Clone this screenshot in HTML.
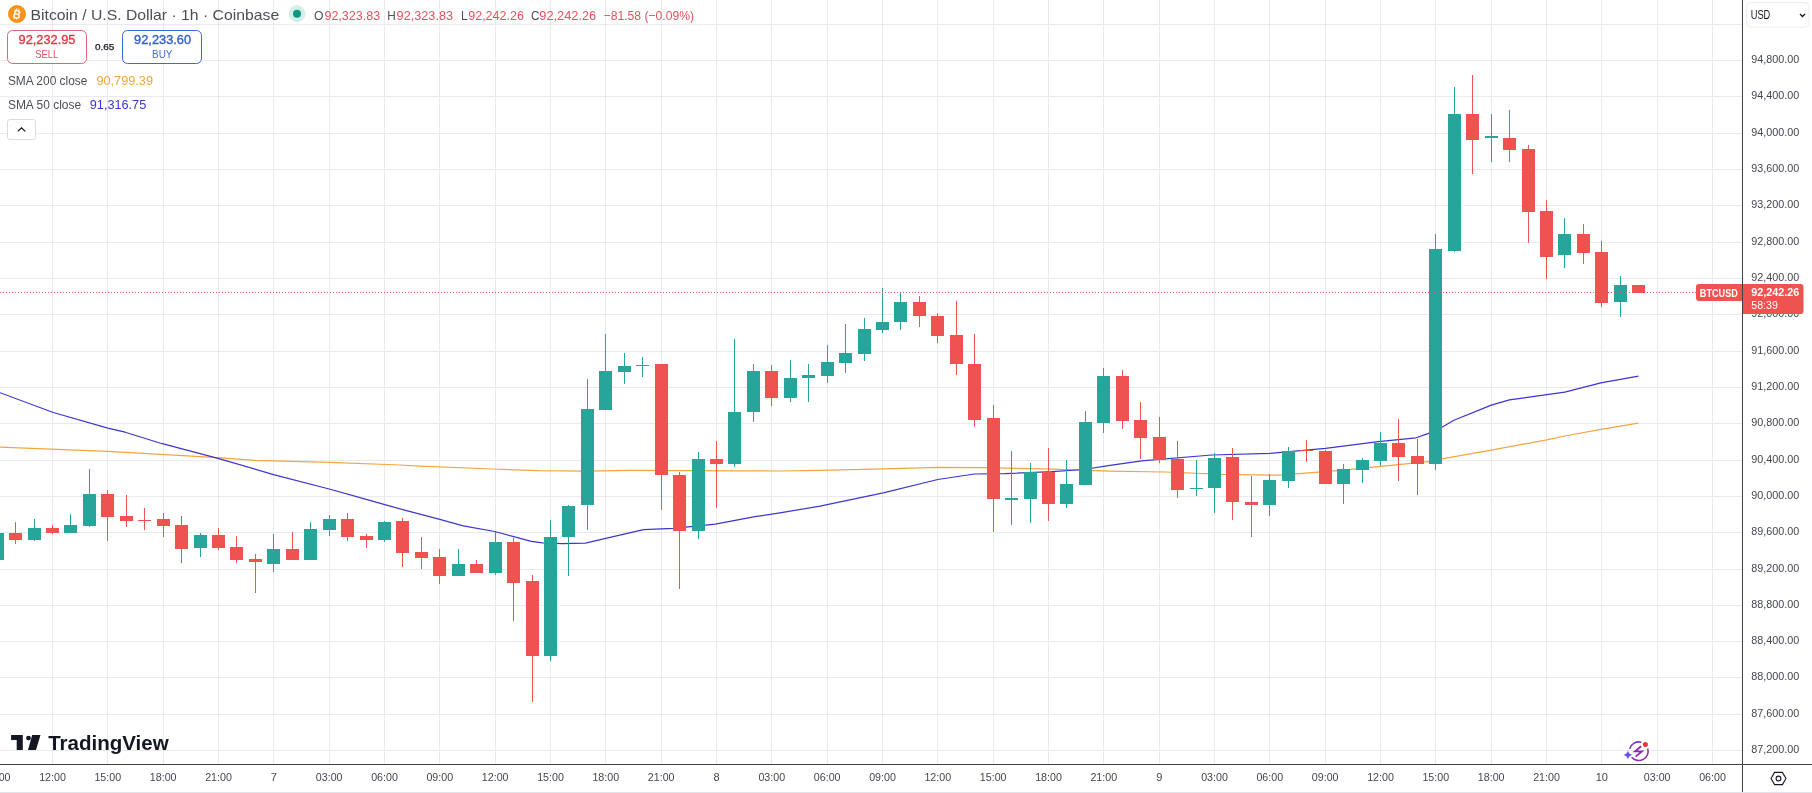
<!DOCTYPE html><html><head><meta charset="utf-8"><title>BTCUSD</title><style>html,body{margin:0;padding:0;width:1812px;height:793px;overflow:hidden;background:#fff;}svg{position:absolute;left:0;top:0;font-family:"Liberation Sans",sans-serif;will-change:transform;}</style></head><body>
<svg width="1812" height="793" viewBox="0 0 1812 793">
<g stroke="#e8eaee" stroke-width="1" shape-rendering="crispEdges">
<line x1="0" y1="24.5" x2="1742" y2="24.5"/>
<line x1="0" y1="60.5" x2="1742" y2="60.5"/>
<line x1="0" y1="96.5" x2="1742" y2="96.5"/>
<line x1="0" y1="133.5" x2="1742" y2="133.5"/>
<line x1="0" y1="169.5" x2="1742" y2="169.5"/>
<line x1="0" y1="205.5" x2="1742" y2="205.5"/>
<line x1="0" y1="242.5" x2="1742" y2="242.5"/>
<line x1="0" y1="278.5" x2="1742" y2="278.5"/>
<line x1="0" y1="314.5" x2="1742" y2="314.5"/>
<line x1="0" y1="351.5" x2="1742" y2="351.5"/>
<line x1="0" y1="387.5" x2="1742" y2="387.5"/>
<line x1="0" y1="423.5" x2="1742" y2="423.5"/>
<line x1="0" y1="460.5" x2="1742" y2="460.5"/>
<line x1="0" y1="496.5" x2="1742" y2="496.5"/>
<line x1="0" y1="532.5" x2="1742" y2="532.5"/>
<line x1="0" y1="569.5" x2="1742" y2="569.5"/>
<line x1="0" y1="605.5" x2="1742" y2="605.5"/>
<line x1="0" y1="641.5" x2="1742" y2="641.5"/>
<line x1="0" y1="677.5" x2="1742" y2="677.5"/>
<line x1="0" y1="714.5" x2="1742" y2="714.5"/>
<line x1="0" y1="750.5" x2="1742" y2="750.5"/>
<line x1="52.5" y1="0" x2="52.5" y2="764"/>
<line x1="107.5" y1="0" x2="107.5" y2="764"/>
<line x1="163.5" y1="0" x2="163.5" y2="764"/>
<line x1="218.5" y1="0" x2="218.5" y2="764"/>
<line x1="273.5" y1="0" x2="273.5" y2="764"/>
<line x1="329.5" y1="0" x2="329.5" y2="764"/>
<line x1="384.5" y1="0" x2="384.5" y2="764"/>
<line x1="439.5" y1="0" x2="439.5" y2="764"/>
<line x1="495.5" y1="0" x2="495.5" y2="764"/>
<line x1="550.5" y1="0" x2="550.5" y2="764"/>
<line x1="605.5" y1="0" x2="605.5" y2="764"/>
<line x1="661.5" y1="0" x2="661.5" y2="764"/>
<line x1="716.5" y1="0" x2="716.5" y2="764"/>
<line x1="771.5" y1="0" x2="771.5" y2="764"/>
<line x1="827.5" y1="0" x2="827.5" y2="764"/>
<line x1="882.5" y1="0" x2="882.5" y2="764"/>
<line x1="937.5" y1="0" x2="937.5" y2="764"/>
<line x1="993.5" y1="0" x2="993.5" y2="764"/>
<line x1="1048.5" y1="0" x2="1048.5" y2="764"/>
<line x1="1103.5" y1="0" x2="1103.5" y2="764"/>
<line x1="1159.5" y1="0" x2="1159.5" y2="764"/>
<line x1="1214.5" y1="0" x2="1214.5" y2="764"/>
<line x1="1269.5" y1="0" x2="1269.5" y2="764"/>
<line x1="1325.5" y1="0" x2="1325.5" y2="764"/>
<line x1="1380.5" y1="0" x2="1380.5" y2="764"/>
<line x1="1435.5" y1="0" x2="1435.5" y2="764"/>
<line x1="1491.5" y1="0" x2="1491.5" y2="764"/>
<line x1="1546.5" y1="0" x2="1546.5" y2="764"/>
<line x1="1601.5" y1="0" x2="1601.5" y2="764"/>
<line x1="1657.5" y1="0" x2="1657.5" y2="764"/>
<line x1="1712.5" y1="0" x2="1712.5" y2="764"/>
</g>
<polyline points="0.0,447.2 107.8,451.4 217.9,457.7 255.0,460.4 329.2,462.3 400.0,465.0 420.0,466.2 492.7,469.0 539.0,470.6 585.4,471.1 631.8,470.4 678.2,470.6 747.7,470.8 780.0,471.0 820.0,470.4 883.2,468.9 937.8,467.3 986.4,467.7 1052.0,469.2 1110.0,471.1 1165.0,472.0 1223.0,474.4 1280.0,475.2 1340.5,470.3 1385.9,465.8 1431.0,461.3 1442.0,458.8 1460.0,455.7 1491.3,450.2 1546.8,439.8 1564.8,436.0 1600.9,429.4 1638.4,423.1" fill="none" stroke="#f3a640" stroke-width="1.2" stroke-linejoin="round"/>
<polyline points="0.0,392.7 53.3,412.5 107.8,428.2 125.2,432.2 162.3,443.7 217.9,458.3 273.5,474.6 329.2,489.0 366.3,499.4 375.0,501.9 406.5,510.7 438.0,518.9 463.3,525.9 494.8,531.5 513.7,536.6 531.4,541.4 542.7,542.9 562.3,543.6 585.4,543.2 643.4,529.7 673.5,528.3 715.3,524.1 755.0,516.7 780.0,512.9 820.0,506.1 883.2,492.8 937.8,479.5 974.3,474.0 1004.6,473.6 1052.0,471.7 1083.5,469.5 1110.0,465.4 1141.7,460.8 1211.7,455.0 1270.0,453.3 1325.4,448.4 1378.3,441.6 1416.0,437.8 1428.0,433.6 1441.9,427.2 1453.9,420.3 1491.3,405.1 1509.4,399.8 1546.8,394.7 1564.8,392.2 1600.9,382.9 1638.4,376.2" fill="none" stroke="#3b36cf" stroke-width="1.2" stroke-linejoin="round"/>
<g shape-rendering="crispEdges">
<rect x="-3" y="533" width="1" height="27" fill="#26a69a"/>
<rect x="-9" y="533" width="13" height="27" fill="#26a69a"/>
<rect x="15" y="522" width="1" height="22" fill="#ef5350"/>
<rect x="9" y="533" width="13" height="7" fill="#ef5350"/>
<rect x="34" y="519" width="1" height="22" fill="#26a69a"/>
<rect x="28" y="528" width="13" height="12" fill="#26a69a"/>
<rect x="52" y="525" width="1" height="9" fill="#ef5350"/>
<rect x="46" y="528" width="13" height="5" fill="#ef5350"/>
<rect x="70" y="514" width="1" height="19" fill="#26a69a"/>
<rect x="64" y="525" width="13" height="8" fill="#26a69a"/>
<rect x="89" y="469" width="1" height="58" fill="#26a69a"/>
<rect x="83" y="494" width="13" height="32" fill="#26a69a"/>
<rect x="107" y="490" width="1" height="51" fill="#ef5350"/>
<rect x="101" y="494" width="13" height="23" fill="#ef5350"/>
<rect x="126" y="495" width="1" height="32" fill="#ef5350"/>
<rect x="120" y="516" width="13" height="5" fill="#ef5350"/>
<rect x="144" y="508" width="1" height="22" fill="#ef5350"/>
<rect x="138" y="520" width="13" height="1" fill="#ef5350"/>
<rect x="163" y="513" width="1" height="24" fill="#ef5350"/>
<rect x="157" y="519" width="13" height="7" fill="#ef5350"/>
<rect x="181" y="516" width="1" height="47" fill="#ef5350"/>
<rect x="175" y="525" width="13" height="24" fill="#ef5350"/>
<rect x="200" y="533" width="1" height="24" fill="#26a69a"/>
<rect x="194" y="535" width="13" height="13" fill="#26a69a"/>
<rect x="218" y="528" width="1" height="22" fill="#ef5350"/>
<rect x="212" y="535" width="13" height="13" fill="#ef5350"/>
<rect x="236" y="536" width="1" height="27" fill="#ef5350"/>
<rect x="230" y="547" width="13" height="13" fill="#ef5350"/>
<rect x="255" y="554" width="1" height="39" fill="#ef5350"/>
<rect x="249" y="559" width="13" height="3" fill="#ef5350"/>
<rect x="273" y="534" width="1" height="38" fill="#26a69a"/>
<rect x="267" y="549" width="13" height="15" fill="#26a69a"/>
<rect x="292" y="532" width="1" height="28" fill="#ef5350"/>
<rect x="286" y="549" width="13" height="11" fill="#ef5350"/>
<rect x="310" y="522" width="1" height="38" fill="#26a69a"/>
<rect x="304" y="529" width="13" height="31" fill="#26a69a"/>
<rect x="329" y="515" width="1" height="21" fill="#26a69a"/>
<rect x="323" y="519" width="13" height="11" fill="#26a69a"/>
<rect x="347" y="513" width="1" height="28" fill="#ef5350"/>
<rect x="341" y="519" width="13" height="18" fill="#ef5350"/>
<rect x="366" y="534" width="1" height="14" fill="#ef5350"/>
<rect x="360" y="536" width="13" height="4" fill="#ef5350"/>
<rect x="384" y="521" width="1" height="21" fill="#26a69a"/>
<rect x="378" y="522" width="13" height="18" fill="#26a69a"/>
<rect x="402" y="518" width="1" height="49" fill="#ef5350"/>
<rect x="396" y="521" width="13" height="32" fill="#ef5350"/>
<rect x="421" y="537" width="1" height="32" fill="#ef5350"/>
<rect x="415" y="552" width="13" height="6" fill="#ef5350"/>
<rect x="439" y="549" width="1" height="35" fill="#ef5350"/>
<rect x="433" y="557" width="13" height="19" fill="#ef5350"/>
<rect x="458" y="549" width="1" height="27" fill="#26a69a"/>
<rect x="452" y="564" width="13" height="12" fill="#26a69a"/>
<rect x="476" y="560" width="1" height="13" fill="#ef5350"/>
<rect x="470" y="564" width="13" height="9" fill="#ef5350"/>
<rect x="495" y="532" width="1" height="43" fill="#26a69a"/>
<rect x="489" y="542" width="13" height="31" fill="#26a69a"/>
<rect x="513" y="538" width="1" height="83" fill="#ef5350"/>
<rect x="507" y="542" width="13" height="41" fill="#ef5350"/>
<rect x="532" y="575" width="1" height="127" fill="#ef5350"/>
<rect x="526" y="581" width="13" height="75" fill="#ef5350"/>
<rect x="550" y="520" width="1" height="141" fill="#26a69a"/>
<rect x="544" y="537" width="13" height="119" fill="#26a69a"/>
<rect x="568" y="505" width="1" height="71" fill="#26a69a"/>
<rect x="562" y="506" width="13" height="31" fill="#26a69a"/>
<rect x="587" y="379" width="1" height="151" fill="#26a69a"/>
<rect x="581" y="409" width="13" height="96" fill="#26a69a"/>
<rect x="605" y="334" width="1" height="76" fill="#26a69a"/>
<rect x="599" y="371" width="13" height="39" fill="#26a69a"/>
<rect x="624" y="353" width="1" height="31" fill="#26a69a"/>
<rect x="618" y="366" width="13" height="6" fill="#26a69a"/>
<rect x="642" y="357" width="1" height="20" fill="#26a69a"/>
<rect x="636" y="365" width="13" height="1" fill="#26a69a"/>
<rect x="661" y="364" width="1" height="146" fill="#ef5350"/>
<rect x="655" y="364" width="13" height="111" fill="#ef5350"/>
<rect x="679" y="472" width="1" height="117" fill="#ef5350"/>
<rect x="673" y="475" width="13" height="56" fill="#ef5350"/>
<rect x="698" y="452" width="1" height="87" fill="#26a69a"/>
<rect x="692" y="459" width="13" height="72" fill="#26a69a"/>
<rect x="716" y="441" width="1" height="67" fill="#ef5350"/>
<rect x="710" y="459" width="13" height="5" fill="#ef5350"/>
<rect x="734" y="339" width="1" height="128" fill="#26a69a"/>
<rect x="728" y="412" width="13" height="52" fill="#26a69a"/>
<rect x="753" y="364" width="1" height="58" fill="#26a69a"/>
<rect x="747" y="371" width="13" height="41" fill="#26a69a"/>
<rect x="771" y="365" width="1" height="41" fill="#ef5350"/>
<rect x="765" y="371" width="13" height="27" fill="#ef5350"/>
<rect x="790" y="360" width="1" height="42" fill="#26a69a"/>
<rect x="784" y="378" width="13" height="20" fill="#26a69a"/>
<rect x="808" y="364" width="1" height="38" fill="#26a69a"/>
<rect x="802" y="375" width="13" height="3" fill="#26a69a"/>
<rect x="827" y="345" width="1" height="38" fill="#26a69a"/>
<rect x="821" y="362" width="13" height="14" fill="#26a69a"/>
<rect x="845" y="324" width="1" height="49" fill="#26a69a"/>
<rect x="839" y="353" width="13" height="10" fill="#26a69a"/>
<rect x="864" y="318" width="1" height="43" fill="#26a69a"/>
<rect x="858" y="329" width="13" height="25" fill="#26a69a"/>
<rect x="882" y="288" width="1" height="45" fill="#26a69a"/>
<rect x="876" y="322" width="13" height="8" fill="#26a69a"/>
<rect x="900" y="293" width="1" height="37" fill="#26a69a"/>
<rect x="894" y="302" width="13" height="20" fill="#26a69a"/>
<rect x="919" y="296" width="1" height="31" fill="#ef5350"/>
<rect x="913" y="302" width="13" height="14" fill="#ef5350"/>
<rect x="937" y="313" width="1" height="30" fill="#ef5350"/>
<rect x="931" y="316" width="13" height="20" fill="#ef5350"/>
<rect x="956" y="301" width="1" height="74" fill="#ef5350"/>
<rect x="950" y="335" width="13" height="29" fill="#ef5350"/>
<rect x="974" y="334" width="1" height="93" fill="#ef5350"/>
<rect x="968" y="364" width="13" height="56" fill="#ef5350"/>
<rect x="993" y="405" width="1" height="127" fill="#ef5350"/>
<rect x="987" y="418" width="13" height="81" fill="#ef5350"/>
<rect x="1011" y="451" width="1" height="74" fill="#26a69a"/>
<rect x="1005" y="498" width="13" height="2" fill="#26a69a"/>
<rect x="1030" y="463" width="1" height="60" fill="#26a69a"/>
<rect x="1024" y="472" width="13" height="27" fill="#26a69a"/>
<rect x="1048" y="448" width="1" height="73" fill="#ef5350"/>
<rect x="1042" y="472" width="13" height="32" fill="#ef5350"/>
<rect x="1066" y="460" width="1" height="48" fill="#26a69a"/>
<rect x="1060" y="484" width="13" height="20" fill="#26a69a"/>
<rect x="1085" y="411" width="1" height="74" fill="#26a69a"/>
<rect x="1079" y="422" width="13" height="63" fill="#26a69a"/>
<rect x="1103" y="368" width="1" height="65" fill="#26a69a"/>
<rect x="1097" y="376" width="13" height="47" fill="#26a69a"/>
<rect x="1122" y="370" width="1" height="59" fill="#ef5350"/>
<rect x="1116" y="376" width="13" height="45" fill="#ef5350"/>
<rect x="1140" y="402" width="1" height="57" fill="#ef5350"/>
<rect x="1134" y="420" width="13" height="18" fill="#ef5350"/>
<rect x="1159" y="417" width="1" height="46" fill="#ef5350"/>
<rect x="1153" y="437" width="13" height="23" fill="#ef5350"/>
<rect x="1177" y="441" width="1" height="57" fill="#ef5350"/>
<rect x="1171" y="459" width="13" height="31" fill="#ef5350"/>
<rect x="1196" y="460" width="1" height="36" fill="#26a69a"/>
<rect x="1190" y="488" width="13" height="1" fill="#26a69a"/>
<rect x="1214" y="453" width="1" height="60" fill="#26a69a"/>
<rect x="1208" y="458" width="13" height="30" fill="#26a69a"/>
<rect x="1232" y="448" width="1" height="72" fill="#ef5350"/>
<rect x="1226" y="457" width="13" height="45" fill="#ef5350"/>
<rect x="1251" y="476" width="1" height="61" fill="#ef5350"/>
<rect x="1245" y="502" width="13" height="3" fill="#ef5350"/>
<rect x="1269" y="474" width="1" height="42" fill="#26a69a"/>
<rect x="1263" y="480" width="13" height="25" fill="#26a69a"/>
<rect x="1288" y="447" width="1" height="41" fill="#26a69a"/>
<rect x="1282" y="451" width="13" height="30" fill="#26a69a"/>
<rect x="1306" y="440" width="1" height="22" fill="#ef5350"/>
<rect x="1300" y="450" width="13" height="1" fill="#ef5350"/>
<rect x="1325" y="450" width="1" height="34" fill="#ef5350"/>
<rect x="1319" y="451" width="13" height="33" fill="#ef5350"/>
<rect x="1343" y="464" width="1" height="40" fill="#26a69a"/>
<rect x="1337" y="469" width="13" height="15" fill="#26a69a"/>
<rect x="1362" y="458" width="1" height="25" fill="#26a69a"/>
<rect x="1356" y="460" width="13" height="10" fill="#26a69a"/>
<rect x="1380" y="432" width="1" height="34" fill="#26a69a"/>
<rect x="1374" y="443" width="13" height="18" fill="#26a69a"/>
<rect x="1398" y="419" width="1" height="62" fill="#ef5350"/>
<rect x="1392" y="443" width="13" height="14" fill="#ef5350"/>
<rect x="1417" y="439" width="1" height="56" fill="#ef5350"/>
<rect x="1411" y="456" width="13" height="8" fill="#ef5350"/>
<rect x="1435" y="234" width="1" height="236" fill="#26a69a"/>
<rect x="1429" y="249" width="13" height="215" fill="#26a69a"/>
<rect x="1454" y="87" width="1" height="165" fill="#26a69a"/>
<rect x="1448" y="114" width="13" height="137" fill="#26a69a"/>
<rect x="1472" y="75" width="1" height="99" fill="#ef5350"/>
<rect x="1466" y="114" width="13" height="26" fill="#ef5350"/>
<rect x="1491" y="114" width="1" height="48" fill="#26a69a"/>
<rect x="1485" y="136" width="13" height="2" fill="#26a69a"/>
<rect x="1509" y="110" width="1" height="52" fill="#ef5350"/>
<rect x="1503" y="138" width="13" height="12" fill="#ef5350"/>
<rect x="1528" y="145" width="1" height="98" fill="#ef5350"/>
<rect x="1522" y="149" width="13" height="63" fill="#ef5350"/>
<rect x="1546" y="200" width="1" height="79" fill="#ef5350"/>
<rect x="1540" y="211" width="13" height="46" fill="#ef5350"/>
<rect x="1564" y="218" width="1" height="50" fill="#26a69a"/>
<rect x="1558" y="234" width="13" height="21" fill="#26a69a"/>
<rect x="1583" y="224" width="1" height="40" fill="#ef5350"/>
<rect x="1577" y="234" width="13" height="19" fill="#ef5350"/>
<rect x="1601" y="241" width="1" height="66" fill="#ef5350"/>
<rect x="1595" y="252" width="13" height="51" fill="#ef5350"/>
<rect x="1620" y="276" width="1" height="41" fill="#26a69a"/>
<rect x="1614" y="285" width="13" height="17" fill="#26a69a"/>
<rect x="1638" y="285" width="1" height="8" fill="#ef5350"/>
<rect x="1632" y="285" width="13" height="8" fill="#ef5350"/>
</g>
<line x1="0" y1="292.5" x2="1696" y2="292.5" stroke="#d05560" stroke-width="1" stroke-dasharray="1 2" shape-rendering="crispEdges"/>
<g shape-rendering="crispEdges" stroke="#3f4249" stroke-width="1">
<line x1="1742.5" y1="0" x2="1742.5" y2="793"/>
<line x1="0" y1="764.5" x2="1812" y2="764.5"/>
</g>
<rect x="0" y="792" width="1812" height="1" fill="#e0e3eb"/>
<text x="1751.2" y="63.2" font-size="11" fill="#42464f" textLength="48" lengthAdjust="spacingAndGlyphs">94,800.00</text>
<text x="1751.2" y="99.2" font-size="11" fill="#42464f" textLength="48" lengthAdjust="spacingAndGlyphs">94,400.00</text>
<text x="1751.2" y="136.2" font-size="11" fill="#42464f" textLength="48" lengthAdjust="spacingAndGlyphs">94,000.00</text>
<text x="1751.2" y="172.2" font-size="11" fill="#42464f" textLength="48" lengthAdjust="spacingAndGlyphs">93,600.00</text>
<text x="1751.2" y="208.2" font-size="11" fill="#42464f" textLength="48" lengthAdjust="spacingAndGlyphs">93,200.00</text>
<text x="1751.2" y="245.2" font-size="11" fill="#42464f" textLength="48" lengthAdjust="spacingAndGlyphs">92,800.00</text>
<text x="1751.2" y="281.2" font-size="11" fill="#42464f" textLength="48" lengthAdjust="spacingAndGlyphs">92,400.00</text>
<text x="1751.2" y="317.2" font-size="11" fill="#42464f" textLength="48" lengthAdjust="spacingAndGlyphs">92,000.00</text>
<text x="1751.2" y="354.2" font-size="11" fill="#42464f" textLength="48" lengthAdjust="spacingAndGlyphs">91,600.00</text>
<text x="1751.2" y="390.2" font-size="11" fill="#42464f" textLength="48" lengthAdjust="spacingAndGlyphs">91,200.00</text>
<text x="1751.2" y="426.2" font-size="11" fill="#42464f" textLength="48" lengthAdjust="spacingAndGlyphs">90,800.00</text>
<text x="1751.2" y="463.2" font-size="11" fill="#42464f" textLength="48" lengthAdjust="spacingAndGlyphs">90,400.00</text>
<text x="1751.2" y="499.2" font-size="11" fill="#42464f" textLength="48" lengthAdjust="spacingAndGlyphs">90,000.00</text>
<text x="1751.2" y="535.2" font-size="11" fill="#42464f" textLength="48" lengthAdjust="spacingAndGlyphs">89,600.00</text>
<text x="1751.2" y="572.2" font-size="11" fill="#42464f" textLength="48" lengthAdjust="spacingAndGlyphs">89,200.00</text>
<text x="1751.2" y="608.2" font-size="11" fill="#42464f" textLength="48" lengthAdjust="spacingAndGlyphs">88,800.00</text>
<text x="1751.2" y="644.2" font-size="11" fill="#42464f" textLength="48" lengthAdjust="spacingAndGlyphs">88,400.00</text>
<text x="1751.2" y="680.2" font-size="11" fill="#42464f" textLength="48" lengthAdjust="spacingAndGlyphs">88,000.00</text>
<text x="1751.2" y="717.2" font-size="11" fill="#42464f" textLength="48" lengthAdjust="spacingAndGlyphs">87,600.00</text>
<text x="1751.2" y="753.2" font-size="11" fill="#42464f" textLength="48" lengthAdjust="spacingAndGlyphs">87,200.00</text>
<text x="-2.8" y="781" font-size="11" fill="#42464f" text-anchor="middle" textLength="26.7" lengthAdjust="spacingAndGlyphs">09:00</text>
<text x="52.5" y="781" font-size="11" fill="#42464f" text-anchor="middle" textLength="26.7" lengthAdjust="spacingAndGlyphs">12:00</text>
<text x="107.8" y="781" font-size="11" fill="#42464f" text-anchor="middle" textLength="26.7" lengthAdjust="spacingAndGlyphs">15:00</text>
<text x="163.2" y="781" font-size="11" fill="#42464f" text-anchor="middle" textLength="26.7" lengthAdjust="spacingAndGlyphs">18:00</text>
<text x="218.5" y="781" font-size="11" fill="#42464f" text-anchor="middle" textLength="26.7" lengthAdjust="spacingAndGlyphs">21:00</text>
<text x="273.8" y="781" font-size="11" fill="#42464f" text-anchor="middle">7</text>
<text x="329.2" y="781" font-size="11" fill="#42464f" text-anchor="middle" textLength="26.7" lengthAdjust="spacingAndGlyphs">03:00</text>
<text x="384.5" y="781" font-size="11" fill="#42464f" text-anchor="middle" textLength="26.7" lengthAdjust="spacingAndGlyphs">06:00</text>
<text x="439.8" y="781" font-size="11" fill="#42464f" text-anchor="middle" textLength="26.7" lengthAdjust="spacingAndGlyphs">09:00</text>
<text x="495.2" y="781" font-size="11" fill="#42464f" text-anchor="middle" textLength="26.7" lengthAdjust="spacingAndGlyphs">12:00</text>
<text x="550.5" y="781" font-size="11" fill="#42464f" text-anchor="middle" textLength="26.7" lengthAdjust="spacingAndGlyphs">15:00</text>
<text x="605.8" y="781" font-size="11" fill="#42464f" text-anchor="middle" textLength="26.7" lengthAdjust="spacingAndGlyphs">18:00</text>
<text x="661.2" y="781" font-size="11" fill="#42464f" text-anchor="middle" textLength="26.7" lengthAdjust="spacingAndGlyphs">21:00</text>
<text x="716.5" y="781" font-size="11" fill="#42464f" text-anchor="middle">8</text>
<text x="771.8" y="781" font-size="11" fill="#42464f" text-anchor="middle" textLength="26.7" lengthAdjust="spacingAndGlyphs">03:00</text>
<text x="827.2" y="781" font-size="11" fill="#42464f" text-anchor="middle" textLength="26.7" lengthAdjust="spacingAndGlyphs">06:00</text>
<text x="882.5" y="781" font-size="11" fill="#42464f" text-anchor="middle" textLength="26.7" lengthAdjust="spacingAndGlyphs">09:00</text>
<text x="937.8" y="781" font-size="11" fill="#42464f" text-anchor="middle" textLength="26.7" lengthAdjust="spacingAndGlyphs">12:00</text>
<text x="993.2" y="781" font-size="11" fill="#42464f" text-anchor="middle" textLength="26.7" lengthAdjust="spacingAndGlyphs">15:00</text>
<text x="1048.5" y="781" font-size="11" fill="#42464f" text-anchor="middle" textLength="26.7" lengthAdjust="spacingAndGlyphs">18:00</text>
<text x="1103.8" y="781" font-size="11" fill="#42464f" text-anchor="middle" textLength="26.7" lengthAdjust="spacingAndGlyphs">21:00</text>
<text x="1159.2" y="781" font-size="11" fill="#42464f" text-anchor="middle">9</text>
<text x="1214.5" y="781" font-size="11" fill="#42464f" text-anchor="middle" textLength="26.7" lengthAdjust="spacingAndGlyphs">03:00</text>
<text x="1269.8" y="781" font-size="11" fill="#42464f" text-anchor="middle" textLength="26.7" lengthAdjust="spacingAndGlyphs">06:00</text>
<text x="1325.2" y="781" font-size="11" fill="#42464f" text-anchor="middle" textLength="26.7" lengthAdjust="spacingAndGlyphs">09:00</text>
<text x="1380.5" y="781" font-size="11" fill="#42464f" text-anchor="middle" textLength="26.7" lengthAdjust="spacingAndGlyphs">12:00</text>
<text x="1435.8" y="781" font-size="11" fill="#42464f" text-anchor="middle" textLength="26.7" lengthAdjust="spacingAndGlyphs">15:00</text>
<text x="1491.2" y="781" font-size="11" fill="#42464f" text-anchor="middle" textLength="26.7" lengthAdjust="spacingAndGlyphs">18:00</text>
<text x="1546.5" y="781" font-size="11" fill="#42464f" text-anchor="middle" textLength="26.7" lengthAdjust="spacingAndGlyphs">21:00</text>
<text x="1601.8" y="781" font-size="11" fill="#42464f" text-anchor="middle">10</text>
<text x="1657.2" y="781" font-size="11" fill="#42464f" text-anchor="middle" textLength="26.7" lengthAdjust="spacingAndGlyphs">03:00</text>
<text x="1712.5" y="781" font-size="11" fill="#42464f" text-anchor="middle" textLength="26.7" lengthAdjust="spacingAndGlyphs">06:00</text>
<path d="M1699,284 H1743 V301 H1699 Q1696,301 1696,298 V287 Q1696,284 1699,284 Z" fill="#ef5350"/>
<path d="M1742,284 H1800.5 Q1803.5,284 1803.5,287 V311 Q1803.5,314 1800.5,314 H1742 Z" fill="#ef5350"/>
<line x1="1742.5" y1="284" x2="1742.5" y2="314" stroke="#3f4249" stroke-width="1" shape-rendering="crispEdges"/>
<text x="1699.8" y="296.5" font-size="10.5" fill="#ffffff" font-weight="bold" textLength="38" lengthAdjust="spacingAndGlyphs">BTCUSD</text>
<text x="1751.3" y="295.5" font-size="11" fill="#ffffff" font-weight="bold" textLength="48" lengthAdjust="spacingAndGlyphs">92,242.26</text>
<text x="1751.3" y="308.6" font-size="11" fill="#ffffff" textLength="26.5" lengthAdjust="spacingAndGlyphs">58:39</text>
<rect x="1746.5" y="2.5" width="62.5" height="24.5" rx="4" fill="#fff" stroke="#eceef2" stroke-width="1"/>
<text x="1750.7" y="19" font-size="12" fill="#131722" textLength="19.6" lengthAdjust="spacingAndGlyphs">USD</text>
<path d="M1800,14 L1802.5,16.5 L1805,14" fill="none" stroke="#131722" stroke-width="1.3"/>
<path d="M1774.6,772.4 H1782.4 L1786,778.5 L1782.4,784.6 H1774.6 L1771,778.5 Z" fill="none" stroke="#131722" stroke-width="1.1"/>
<circle cx="1778.5" cy="778.5" r="2.4" fill="none" stroke="#131722" stroke-width="1.1"/>
<circle cx="17" cy="14" r="9" fill="#f7931a"/>
<g transform="rotate(14 17 14)"><text x="17" y="18.3" font-size="11.5" fill="#fff" stroke="#fff" stroke-width="0.4" text-anchor="middle">B</text><path d="M15.6,8.6 V10.2 M17.8,8.6 V10.2 M15.6,17.8 V19.4 M17.8,17.8 V19.4" stroke="#fff" stroke-width="1"/></g>
<text x="30.5" y="20" font-size="14.5" fill="#4a4e57" textLength="248.7" lengthAdjust="spacingAndGlyphs">Bitcoin / U.S. Dollar · 1h · Coinbase</text>
<circle cx="297" cy="13.8" r="8.5" fill="#d4efe9"/>
<circle cx="297" cy="13.8" r="4" fill="#089981"/>
<text x="314" y="19.5" font-size="13" fill="#4a4e57" textLength="9.5" lengthAdjust="spacingAndGlyphs">O</text>
<text x="324.4" y="19.5" font-size="13" fill="#e5505b" textLength="55.9" lengthAdjust="spacingAndGlyphs">92,323.83</text>
<text x="387.3" y="19.5" font-size="13" fill="#4a4e57" textLength="8.5" lengthAdjust="spacingAndGlyphs">H</text>
<text x="396.6" y="19.5" font-size="13" fill="#e5505b" textLength="56.5" lengthAdjust="spacingAndGlyphs">92,323.83</text>
<text x="460.9" y="19.5" font-size="13" fill="#4a4e57" textLength="6.5" lengthAdjust="spacingAndGlyphs">L</text>
<text x="468.2" y="19.5" font-size="13" fill="#e5505b" textLength="55.8" lengthAdjust="spacingAndGlyphs">92,242.26</text>
<text x="530.9" y="19.5" font-size="13" fill="#4a4e57" textLength="8.5" lengthAdjust="spacingAndGlyphs">C</text>
<text x="539.3" y="19.5" font-size="13" fill="#e5505b" textLength="56.9" lengthAdjust="spacingAndGlyphs">92,242.26</text>
<text x="603.7" y="19.5" font-size="13" fill="#e5505b" textLength="90.3" lengthAdjust="spacingAndGlyphs">−81.58 (−0.09%)</text>
<rect x="7.5" y="30.5" width="79" height="33" rx="5" fill="#fff" stroke="#e0636d" stroke-width="1"/>
<text x="18.5" y="43.7" font-size="12" fill="#e03a47" textLength="57" lengthAdjust="spacingAndGlyphs" stroke="#e03a47" stroke-width="0.35">92,232.95</text>
<text x="35.3" y="57.8" font-size="10.5" fill="#e0505a" textLength="23" lengthAdjust="spacingAndGlyphs">SELL</text>
<text x="94.9" y="50" font-size="9" fill="#131722" textLength="19.4" lengthAdjust="spacingAndGlyphs" stroke="#131722" stroke-width="0.25">0.65</text>
<rect x="122.5" y="30.5" width="79" height="33" rx="5" fill="#fff" stroke="#3a68d8" stroke-width="1"/>
<text x="134.1" y="43.7" font-size="12" fill="#2e5ed6" textLength="57" lengthAdjust="spacingAndGlyphs" stroke="#2e5ed6" stroke-width="0.35">92,233.60</text>
<text x="152" y="57.8" font-size="10.5" fill="#3f6ad8" textLength="20.5" lengthAdjust="spacingAndGlyphs">BUY</text>
<text x="7.9" y="85" font-size="12" fill="#4a4e57" textLength="79.5" lengthAdjust="spacingAndGlyphs">SMA 200 close</text>
<text x="96.4" y="85" font-size="12.5" fill="#f0a63a" textLength="56.6" lengthAdjust="spacingAndGlyphs">90,799.39</text>
<text x="7.9" y="108.9" font-size="12" fill="#4a4e57" textLength="73.2" lengthAdjust="spacingAndGlyphs">SMA 50 close</text>
<text x="89.8" y="108.9" font-size="12.5" fill="#3b36cf" textLength="56.4" lengthAdjust="spacingAndGlyphs">91,316.75</text>
<rect x="7.5" y="119.5" width="28" height="20" rx="2.5" fill="#fff" stroke="#dcdcdc" stroke-width="1"/>
<path d="M17.7,131.4 L21.5,127.8 L25.3,131.4" fill="none" stroke="#131722" stroke-width="1.3"/>
<g fill="#131722">
<path d="M11.1,735.1 H22.8 V749.9 H16.7 V740 H11.1 Z"/>
<circle cx="28.5" cy="738.1" r="2.4"/>
<path d="M32.2,735.1 H40.5 L36,749.9 H28 Z"/>
</g>
<text x="48.2" y="750" font-size="20" fill="#131722" font-weight="bold" textLength="120.5" lengthAdjust="spacingAndGlyphs">TradingView</text>
<defs><linearGradient id="lg" x1="0" y1="0" x2="1" y2="1"><stop offset="0" stop-color="#6a35c8"/><stop offset="1" stop-color="#a02aa8"/></linearGradient></defs>
<path d="M1629.7,748.9 A9.4,9.4 0 0 1 1641.2,742.2 M1647.7,748.4 A9.4,9.4 0 0 1 1631.6,757.3" fill="none" stroke="url(#lg)" stroke-width="1.6"/>
<path d="M1641.2,746.3 L1635,751.3 H1642 L1635.6,756.6" fill="none" stroke="#8a2db5" stroke-width="1.8" stroke-linejoin="miter"/>
<circle cx="1645.4" cy="744.5" r="2.5" fill="#e53935"/>
<path d="M1627.9,750.3 Q1628.5,754.3 1632.5,754.9 Q1628.5,755.5 1627.9,759.5 Q1627.3,755.5 1623.3,754.9 Q1627.3,754.3 1627.9,750.3 Z" fill="#6a4cf2"/>
</svg></body></html>
